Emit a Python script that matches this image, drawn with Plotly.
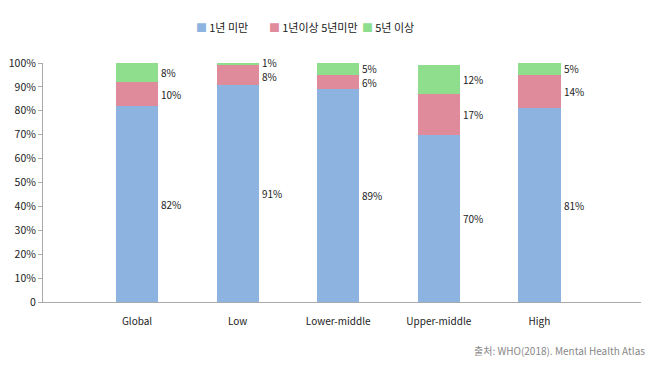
import plotly.graph_objects as go

categories = ["Global", "Low", "Lower-middle", "Upper-middle", "High"]
under_1y = [82, 91, 89, 70, 81]
y1_to_5 = [10, 8, 6, 17, 14]
over_5y = [8, 1, 5, 12, 5]
series_names = ["1년 미만", "1년이상 5년미만", "5년 이상"]
colors = ["#8DB3E0", "#E08B9C", "#8EDE8E"]
tick_vals = [0, 10, 20, 30, 40, 50, 60, 70, 80, 90, 100]
tick_text = ["0", "10%", "20%", "30%", "40%", "50%", "60%", "70%", "80%", "90%", "100%"]
source = "출처: WHO(2018). Mental Health Atlas"

FONT = "Noto Sans CJK KR"
# the page body has an 8px default margin; size the figure to fit the 659x369 window
OFF = 8
W, H = 659 - OFF, 369 - OFF
ML, MR, MT, MB = 43 - OFF, 18, 63 - OFF, 67
plot_w = W - ML - MR
plot_h = H - MT - MB

fig = go.Figure()
series = [under_1y, y1_to_5, over_5y]
for name, vals, col in zip(series_names, series, colors):
    fig.add_trace(go.Bar(x=list(range(len(categories))), y=vals, name=name,
                         marker=dict(color=col, line=dict(width=0)), width=0.42,
                         showlegend=False))

annotations = []
MIN_GAP = 14  # px between stacked labels
for i in range(len(categories)):
    base = 0
    mids = []
    for vals in series:
        v = vals[i]
        mids.append((base + v / 2, v))
        base += v
    pix = [mid * plot_h / 100 for mid, _ in mids]
    shifts = [0.0] * len(pix)
    for k in range(1, len(pix)):
        gap = (pix[k] + shifts[k]) - (pix[k - 1] + shifts[k - 1])
        if gap < MIN_GAP:
            need = MIN_GAP - gap
            shifts[k] += need / 2
            shifts[k - 1] -= need / 2
    for (mid, v), s in zip(mids, shifts):
        annotations.append(dict(x=i + 0.22, y=mid, xref="x", yref="y", yshift=s,
                                text=f"{v}%", showarrow=False, xanchor="left",
                                font=dict(family=FONT, size=10, color="#222")))

# legend built as text: coloured square + series name
legend_left_px = [194, 267, 360]  # page x of each legend entry
legend_y = 1 + (MT - (27 - OFF)) / plot_h
for name, col, px in zip(series_names, colors, legend_left_px):
    annotations.append(dict(x=(px - OFF - ML) / plot_w, y=legend_y,
                            xref="paper", yref="paper", xanchor="left", yanchor="middle",
                            text=f"<span style='color:{col}'>■</span>&#8201;{name}",
                            showarrow=False,
                            font=dict(family=FONT, size=11, color="#222")))

annotations.append(dict(x=1, y=0, xref="paper", yref="paper", xanchor="right", yanchor="middle",
                        yshift=-48, xshift=6, text=source, showarrow=False,
                        font=dict(family=FONT, size=10, color="#888")))

fig.update_layout(
    barmode="stack",
    width=W, height=H,
    margin=dict(l=ML, r=MR, t=MT, b=MB, autoexpand=False),
    paper_bgcolor="white", plot_bgcolor="white",
    font=dict(family=FONT, size=11, color="#222"),
    annotations=annotations,
    showlegend=False,
)
fig.update_xaxes(range=[-0.935, 5.01], tickvals=list(range(len(categories))), ticktext=categories,
                 showline=True, linecolor="#AAAAAA", linewidth=1, ticks="", showgrid=False,
                 automargin=False, ticklabelstandoff=10,
                 tickfont=dict(family=FONT, size=10, color="#222"), zeroline=False)
fig.update_yaxes(range=[0, 100], tickvals=tick_vals, ticktext=tick_text,
                 showline=True, linecolor="#AAAAAA", linewidth=1, ticks="outside",
                 ticklen=4, tickcolor="#AAAAAA", showgrid=False, zeroline=False,
                 automargin=False,
                 tickfont=dict(family=FONT, size=10.5, color="#222"))

fig.write_html("out.html")
